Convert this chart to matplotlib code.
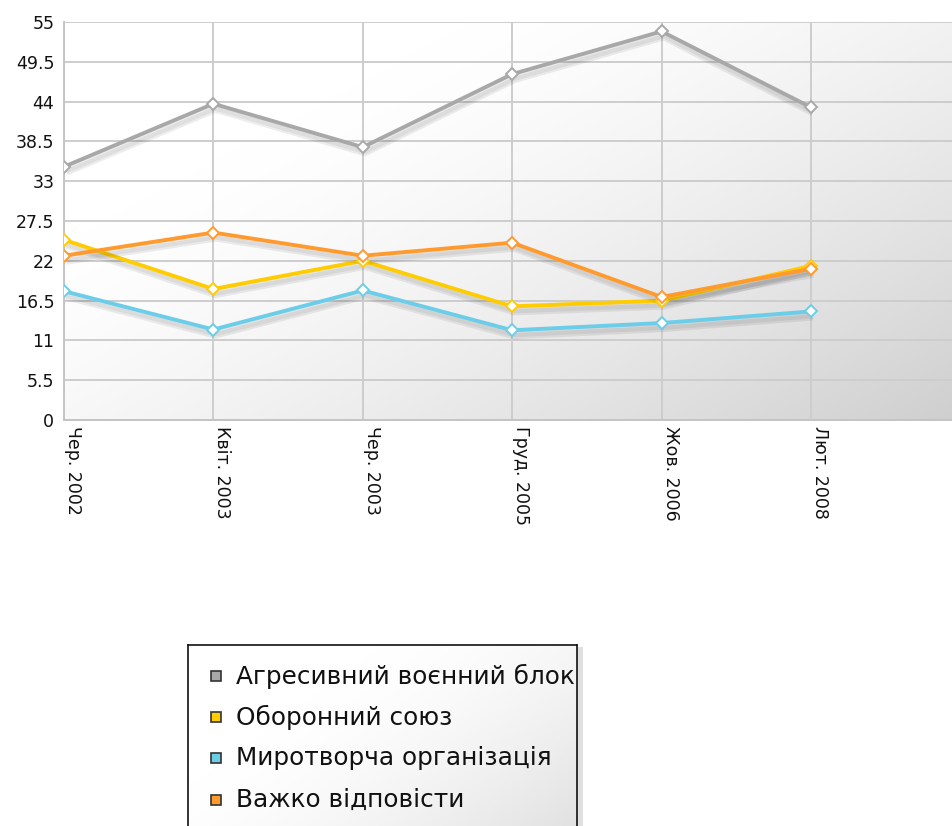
import numpy as np
import matplotlib
matplotlib.use("Agg")
import matplotlib.pyplot as plt
import matplotlib.patheffects as pe
from matplotlib.patches import Rectangle

categories = ["Чер. 2002", "Квіт. 2003", "Чер. 2003", "Груд. 2005", "Жов. 2006", "Лют. 2008"]
series_names = ["Агресивний воєнний блок", "Оборонний союз", "Миротворча організація", "Важко відповісти"]
aggressive = [35.0, 43.7, 37.7, 47.8, 53.7, 43.2]
defensive = [24.9, 18.1, 22.0, 15.7, 16.5, 21.3]
peacekeeping = [17.8, 12.5, 17.9, 12.4, 13.4, 15.0]
hard_to_say = [22.7, 25.9, 22.7, 24.5, 17.0, 20.9]
y_ticks = [0, 5.5, 11, 16.5, 22, 27.5, 33, 38.5, 44, 49.5, 55]
y_tick_labels = ["0", "5.5", "11", "16.5", "22", "27.5", "33", "38.5", "44", "49.5", "55"]

colors = ["#a8a8a8", "#ffcc00", "#6ccde8", "#ff9a2e"]
all_series = [aggressive, defensive, peacekeeping, hard_to_say]

W, H = 952, 826
fig = plt.figure(figsize=(W / 100, H / 100), dpi=100)
fig.patch.set_facecolor("white")

left_px, top_px, bottom_px = 64, 22, 420
slot = 149.4
right_px = left_px + 6 * slot
ax = fig.add_axes([left_px / W, (H - bottom_px) / H, (right_px - left_px) / W, (bottom_px - top_px) / H])
ax.set_xlim(0, 6)
ax.set_ylim(0, 55)

# gradient background: white at top-left, light gray towards bottom-right
nx, ny = 300, 200
u = np.linspace(0, 1, nx)[None, :]
v = np.linspace(0, 1, ny)[:, None]
t = np.clip((0.55 * u + 0.45 * v - 0.25) / 0.75, 0, 1)
g = 1 - 0.19 * t ** 1.4
img = np.dstack([g, g, g])
ax.imshow(img, extent=(0, 6, 0, 55), aspect="auto", origin="upper", zorder=0, interpolation="bilinear")

for yv in y_ticks:
    ax.axhline(yv, color="#cdcdcd", lw=1.4, zorder=1)
for i in range(len(categories)):
    ax.axvline(i, color="#cdcdcd", lw=1.4, zorder=1)

for s in ["top", "right"]:
    ax.spines[s].set_visible(False)
for s in ["left", "bottom"]:
    ax.spines[s].set_color("#c4c4c4")
    ax.spines[s].set_linewidth(1.4)

x = np.arange(len(categories))
for vals, c in zip(all_series, colors):
    ax.plot(x, vals, color=c, lw=2.8, zorder=3, solid_joinstyle="miter", solid_capstyle="butt",
            path_effects=[pe.SimpleLineShadow(offset=(1.5, -3.5), shadow_color="black", alpha=0.07, linewidth=6),
                          pe.SimpleLineShadow(offset=(1.5, -3.5), shadow_color="black", alpha=0.06, linewidth=3),
                          pe.Normal()])
    ax.plot(x, vals, linestyle="none", zorder=4, marker="D", markersize=6,
            markerfacecolor="white", markeredgecolor=c, markeredgewidth=1.4)

ax.set_yticks(y_ticks)
ax.set_yticklabels(y_tick_labels, fontsize=12.5, color="#111111")
ax.set_xticks(x)
ax.set_xticklabels(categories, rotation=270, ha="left", va="top", fontsize=12.5, color="#111111")
ax.tick_params(axis="both", length=0)
ax.tick_params(axis="y", pad=7)
ax.tick_params(axis="x", pad=4)

# legend box (manual)
lx0, ly0, lx1, ly1 = 188, 645, 577, 836
shadow = Rectangle(((lx0 + 6) / W, 1 - (ly1 + 2) / H), (lx1 - lx0) / W, (ly1 - ly0) / H,
                   transform=fig.transFigure, facecolor="#999999", alpha=0.3, edgecolor="none", zorder=1)
fig.patches.append(shadow)
lax = fig.add_axes([lx0 / W, 1 - ly1 / H, (lx1 - lx0) / W, (ly1 - ly0) / H], zorder=2)
lu = np.linspace(0, 1, 200)[None, :]
lv = np.linspace(0, 1, 100)[:, None]
lt = np.clip((0.6 * lu + 0.4 * lv - 0.3) / 0.7, 0, 1)
lg = 1 - 0.12 * lt ** 1.5
lax.imshow(np.dstack([lg, lg, lg]), extent=(0, 1, 0, 1), aspect="auto", origin="upper")
lax.set_xlim(0, 1)
lax.set_ylim(0, 1)
lax.set_xticks([])
lax.set_yticks([])
for s in lax.spines.values():
    s.set_color("#111111")
    s.set_linewidth(1.2)

entry_y = [676, 717, 758, 800]
for name, c, ey in zip(series_names, colors, entry_y):
    fy = 1 - (ey - ly0) / (ly1 - ly0)
    lax.plot([(216 - lx0) / (lx1 - lx0)], [fy], marker="s", markersize=7, markerfacecolor=c,
             markeredgecolor="#333333", markeredgewidth=1.2, linestyle="none")
    lax.text((236 - lx0) / (lx1 - lx0), fy, name, fontsize=17.8, va="center", ha="left", color="#111111")

fig.savefig("out.png", dpi=100)
